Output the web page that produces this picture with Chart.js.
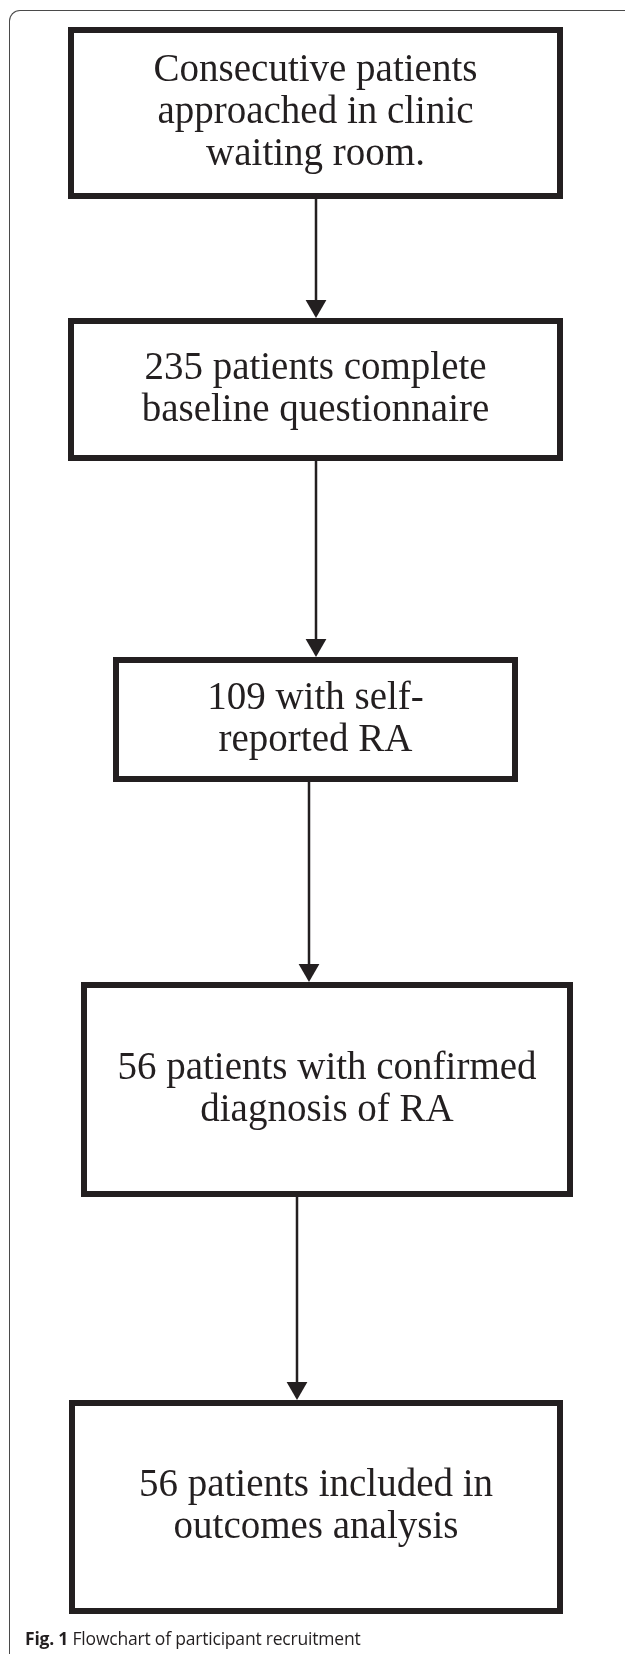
<!DOCTYPE html>
<html>
<head>
<meta charset="utf-8">
<script src="https://cdn.jsdelivr.net/npm/chart.js@4/dist/chart.umd.min.js"></script>
<style>
  html, body { margin: 0; padding: 0; background: #fff; }
  #wrap { position: relative; width: 625px; height: 1654px; overflow: hidden; }
  #frame {
    position: absolute; left: 9px; top: 10px; width: 640px; height: 1700px;
    border-top: 1.5px solid #4a4a4a; border-left: 1.5px solid #4a4a4a;
    border-top-left-radius: 11px; pointer-events: none;
  }
  #caption {
    position: absolute; left: 25px; top: 1626px;
    font-family: "Open Sans", sans-serif; font-size: 17.5px; color: #231f20;
    white-space: nowrap; letter-spacing: -0.2px;
  }
  #caption b { font-weight: 700; }
  canvas { position: absolute; left: 0; top: 0; }
</style>
</head>
<body>
<div id="wrap">
  <canvas id="flow" width="625" height="1654"></canvas>
  <div id="frame"></div>
  <div id="caption"><b>Fig. 1</b> Flowchart of participant recruitment</div>
</div>
<script>
// etapas del diagrama (texto de cada caja)
const steps = [
  ['Consecutive patients', 'approached in clinic', 'waiting room.'],
  ['235 patients complete', 'baseline questionnaire'],
  ['109 with self-', 'reported RA'],
  ['56 patients with confirmed', 'diagnosis of RA'],
  ['56 patients included in', 'outcomes analysis']
];

// posicion de las cajas en unidades de la escala (0..625 x 0..1654)
const boxLeft   = [68, 68, 113, 81, 69];
const boxRight  = [563, 563, 518, 573, 563];
const boxTop    = [27, 318, 657, 982, 1400];
const boxBottom = [199, 461, 782, 1197, 1614];
// x de cada flecha (de la caja i a la i+1)
const arrowX = [316, 316, 309, 297];

const ink = '#231f20';
const headR = 12;

const datasets = [];
steps.forEach((s, i) => {
  datasets.push({
    type: 'bar',
    data: [{ x: (boxLeft[i] + boxRight[i]) / 2, y: [boxTop[i], boxBottom[i]] }],
    barThickness: boxRight[i] - boxLeft[i],
    grouped: false,
    borderSkipped: false,
    borderWidth: 6,
    borderColor: ink,
    backgroundColor: '#fff',
    inflateAmount: 0,
    order: 1
  });
});
arrowX.forEach((x, i) => {
  datasets.push({
    type: 'line',
    data: [{ x: x, y: boxBottom[i] }, { x: x, y: boxTop[i + 1] - headR }],
    borderColor: ink,
    borderWidth: 2.5,
    pointRadius: [0, headR],
    pointStyle: 'triangle',
    pointRotation: 180,
    pointBackgroundColor: ink,
    pointBorderWidth: 0,
    order: 2
  });
});

// texto centrado dentro de cada caja
const boxText = {
  id: 'boxText',
  afterDatasetsDraw(chart) {
    const { ctx, scales } = chart;
    ctx.save();
    ctx.fillStyle = ink;
    ctx.font = '39px "Liberation Serif", "Times New Roman", serif';
    ctx.textAlign = 'center';
    ctx.textBaseline = 'middle';
    const lh = 42;
    steps.forEach((lines, i) => {
      const cx = scales.x.getPixelForValue((boxLeft[i] + boxRight[i]) / 2);
      const cy = scales.y.getPixelForValue((boxTop[i] + boxBottom[i]) / 2);
      lines.forEach((t, k) => {
        ctx.fillText(t, cx, cy + (k - (lines.length - 1) / 2) * lh);
      });
    });
    ctx.restore();
  }
};

new Chart(document.getElementById('flow'), {
  type: 'bar',
  data: { datasets },
  options: {
    responsive: false,
    animation: false,
    devicePixelRatio: 1,
    layout: { padding: 0, autoPadding: false },
    plugins: { legend: { display: false }, tooltip: { enabled: false } },
    scales: {
      x: { type: 'linear', min: 0, max: 625, display: false, offset: false },
      y: { type: 'linear', min: 0, max: 1654, reverse: true, display: false }
    }
  },
  plugins: [boxText]
});
</script>
</body>
</html>
